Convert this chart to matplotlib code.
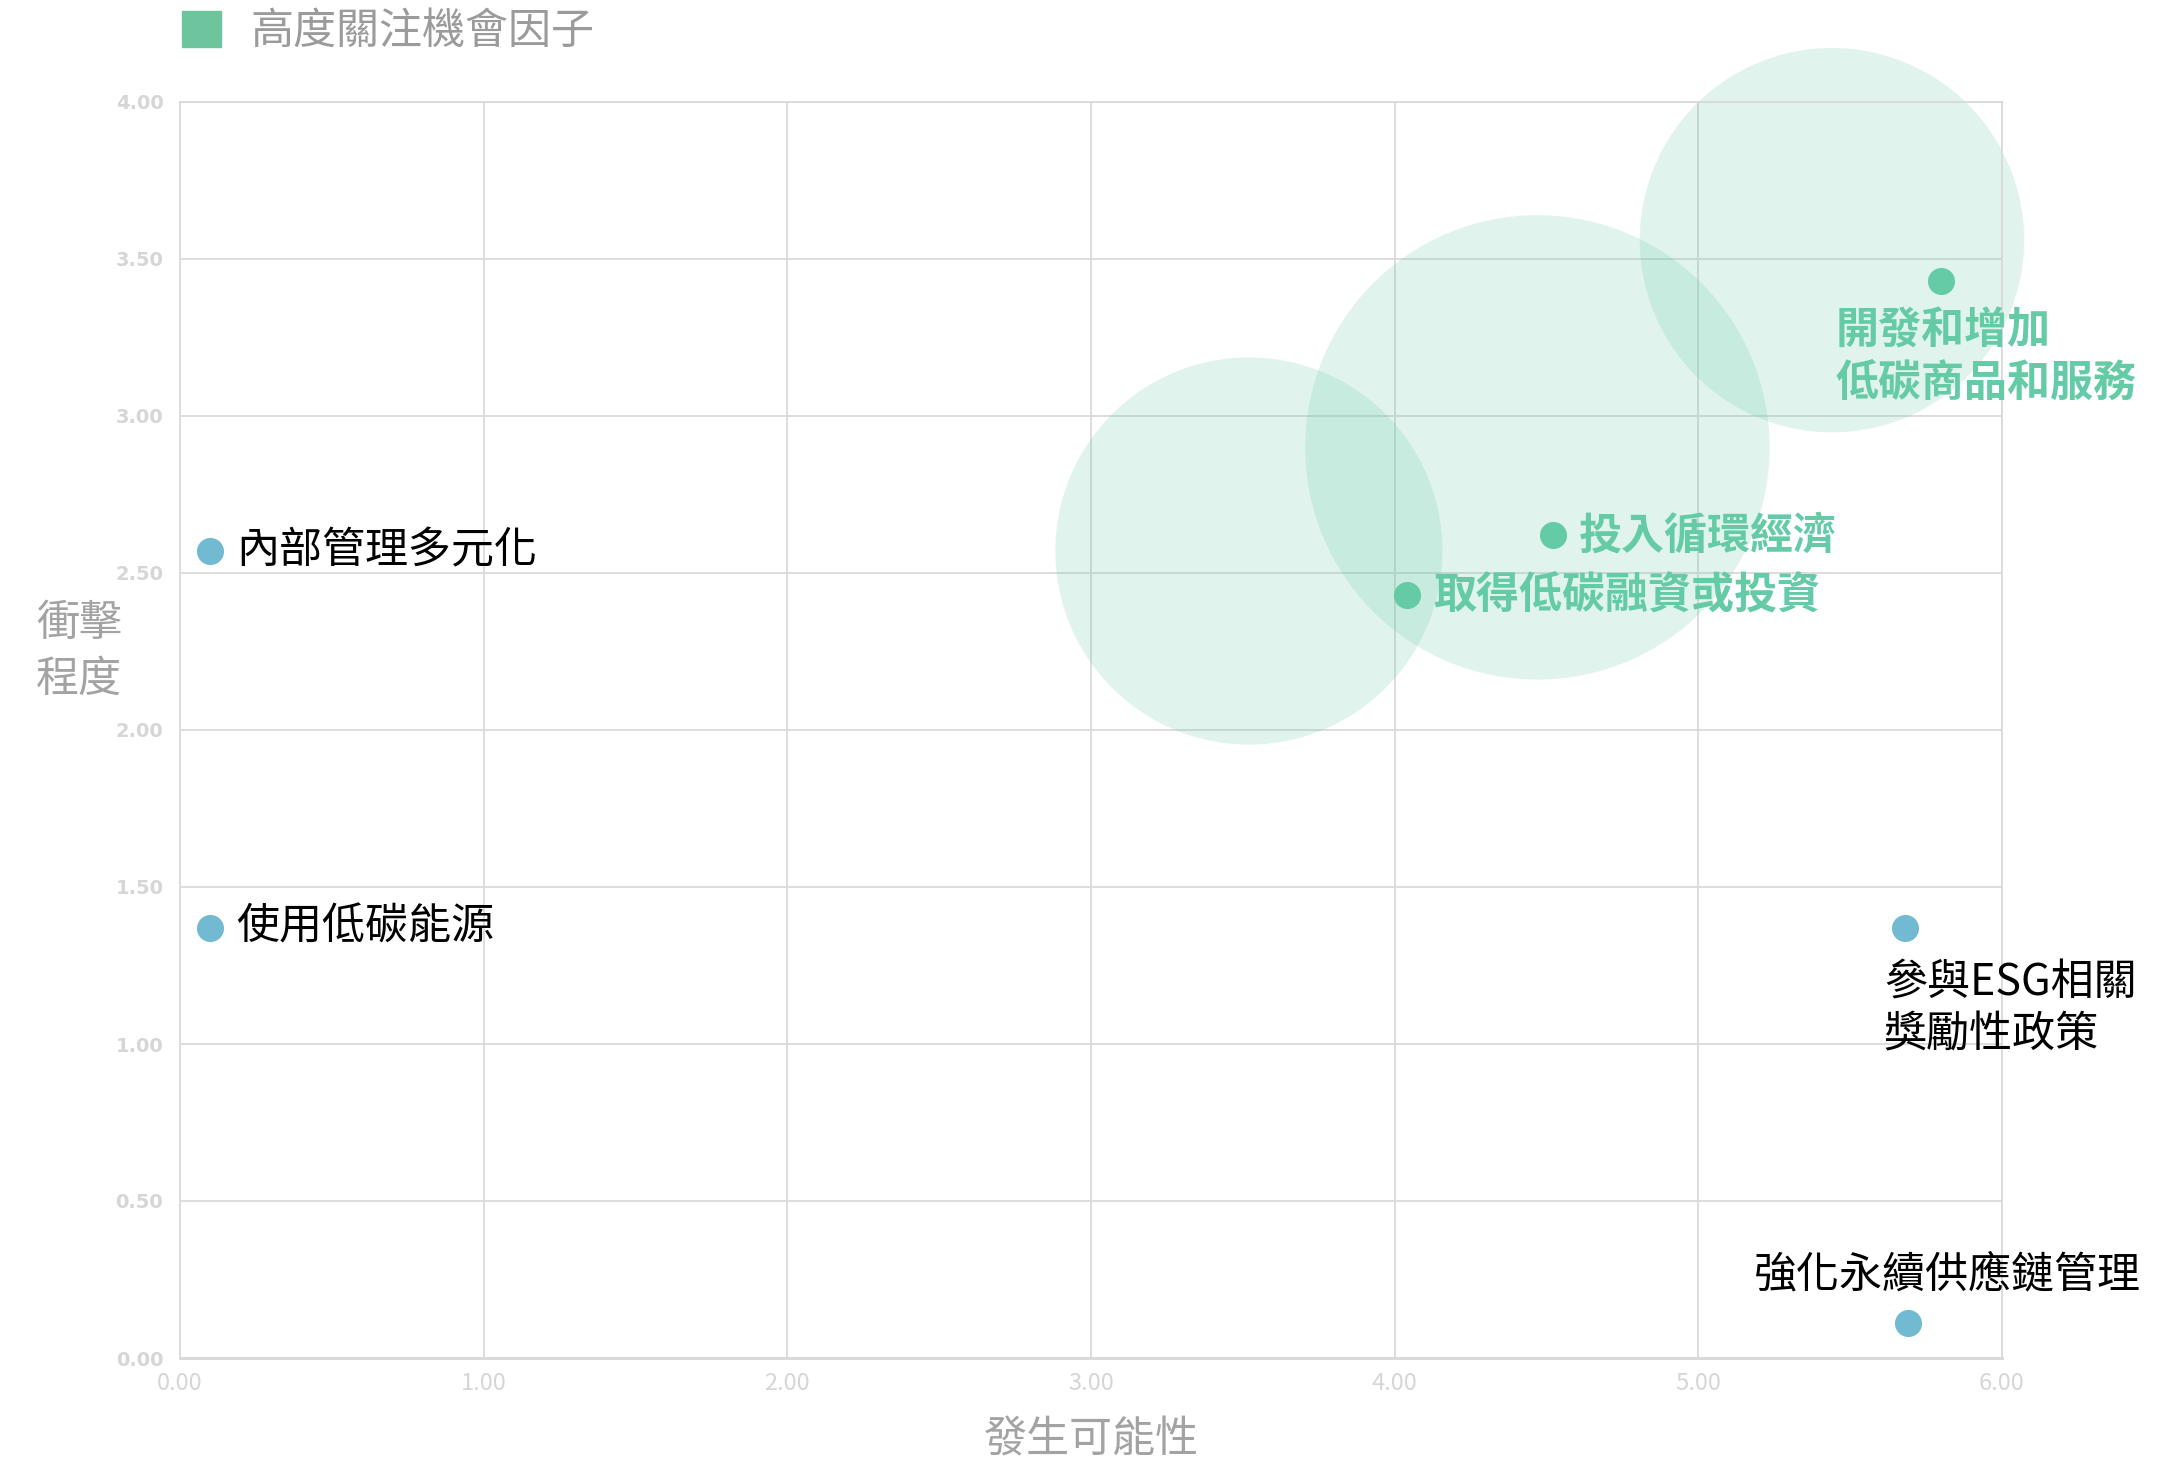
import matplotlib
matplotlib.use("Agg")
import matplotlib.pyplot as plt
from matplotlib.patches import Patch

plt.rcParams["font.family"] = ["Noto Sans CJK TC", "DejaVu Sans"]

# factors (x = likelihood, y = impact)
labels = [
    "內部管理多元化",
    "使用低碳能源",
    "參與ESG相關\n獎勵性政策",
    "強化永續供應鏈管理",
    "開發和增加\n低碳商品和服務",
    "投入循環經濟",
    "取得低碳融資或投資",
]
likelihood = [0.10, 0.10, 5.68, 5.69, 5.80, 4.52, 4.04]
impact = [2.57, 1.37, 1.37, 0.11, 3.43, 2.62, 2.43]
focus = [False, False, False, False, True, True, True]

# high-focus bubbles
bubble_x = [3.52, 4.47, 5.44]
bubble_y = [2.57, 2.90, 3.56]
bubble_value = [2.80, 4.03, 2.76]

x_ticks = [0, 1, 2, 3, 4, 5, 6]
y_ticks = [0, 0.5, 1, 1.5, 2, 2.5, 3, 3.5, 4]

GREEN = "#65CBA6"
BLUE = "#72B9D2"
GRID = "#DADADA"
TICK = "#D6D6D6"
AXLABEL = "#A3A3A3"
BUBBLE_SCALE = 27750

# label offsets in pixels relative to the dot, and alignment
label_style = [
    ((26, 0), "left", "center"),
    ((26, 0), "left", "center"),
    ((-21, -34), "left", "top"),
    ((-154, 48), "left", "center"),
    ((-106, -28), "left", "top"),
    ((26, 0), "left", "center"),
    ((26, 0), "left", "center"),
]

fig = plt.figure(figsize=(21.68, 14.62), dpi=100)
ax = fig.add_axes([180 / 2168, 1 - 1358 / 1462, 1822 / 2168, 1256 / 1462])

ax.scatter(bubble_x, bubble_y, s=[v * BUBBLE_SCALE for v in bubble_value],
           color=GREEN, alpha=0.2, linewidths=0, zorder=2, clip_on=False)

for x, y, f in zip(likelihood, impact, focus):
    ax.scatter([x], [y], s=380, color=GREEN if f else BLUE,
               linewidths=0, zorder=4, clip_on=False)

for lab, x, y, f, (off, ha, va) in zip(labels, likelihood, impact, focus, label_style):
    ax.annotate(lab, (x, y), xytext=off, textcoords="offset pixels",
                ha=ha, va=va, fontsize=31, linespacing=1.22,
                color=GREEN if f else "black",
                fontweight="bold" if f else "normal", zorder=5,
                annotation_clip=False)

ax.set_xlim(0, 6)
ax.set_ylim(0, 4)
ax.set_xticks(x_ticks)
ax.set_yticks(y_ticks)
ax.set_xticklabels([f"{v:.2f}" for v in x_ticks], fontsize=17, color=TICK)
ax.set_yticklabels([f"{v:.2f}" for v in y_ticks], fontsize=14, color=TICK,
                   fontweight="bold", family="DejaVu Sans")
ax.tick_params(axis="y", length=0, pad=12)
ax.tick_params(axis="x", length=0, pad=10)
ax.grid(True, color=GRID, linewidth=1.3, zorder=1)
ax.set_axisbelow(True)
for sp in ax.spines.values():
    sp.set_color(GRID)
    sp.set_linewidth(1.3)
ax.spines["bottom"].set_linewidth(2.2)

fig.text(79 / 2168, 1 - 652 / 1462, "衝擊\n程度", fontsize=31, color=AXLABEL,
         ha="center", va="center", linespacing=1.35)
fig.text(1091 / 2168, 1 - 1440 / 1462, "發生可能性", fontsize=31, color=AXLABEL,
         ha="center", va="center")

fig.legend(handles=[Patch(color="#6DC59D", label="高度關注機會因子")],
           loc="upper left", bbox_to_anchor=(143 / 2168, 1.02), frameon=False,
           fontsize=31, labelcolor="#9B9B9B", handlelength=0.9, handleheight=0.9,
           handletextpad=0.7)

fig.savefig("out.png", dpi=100)
